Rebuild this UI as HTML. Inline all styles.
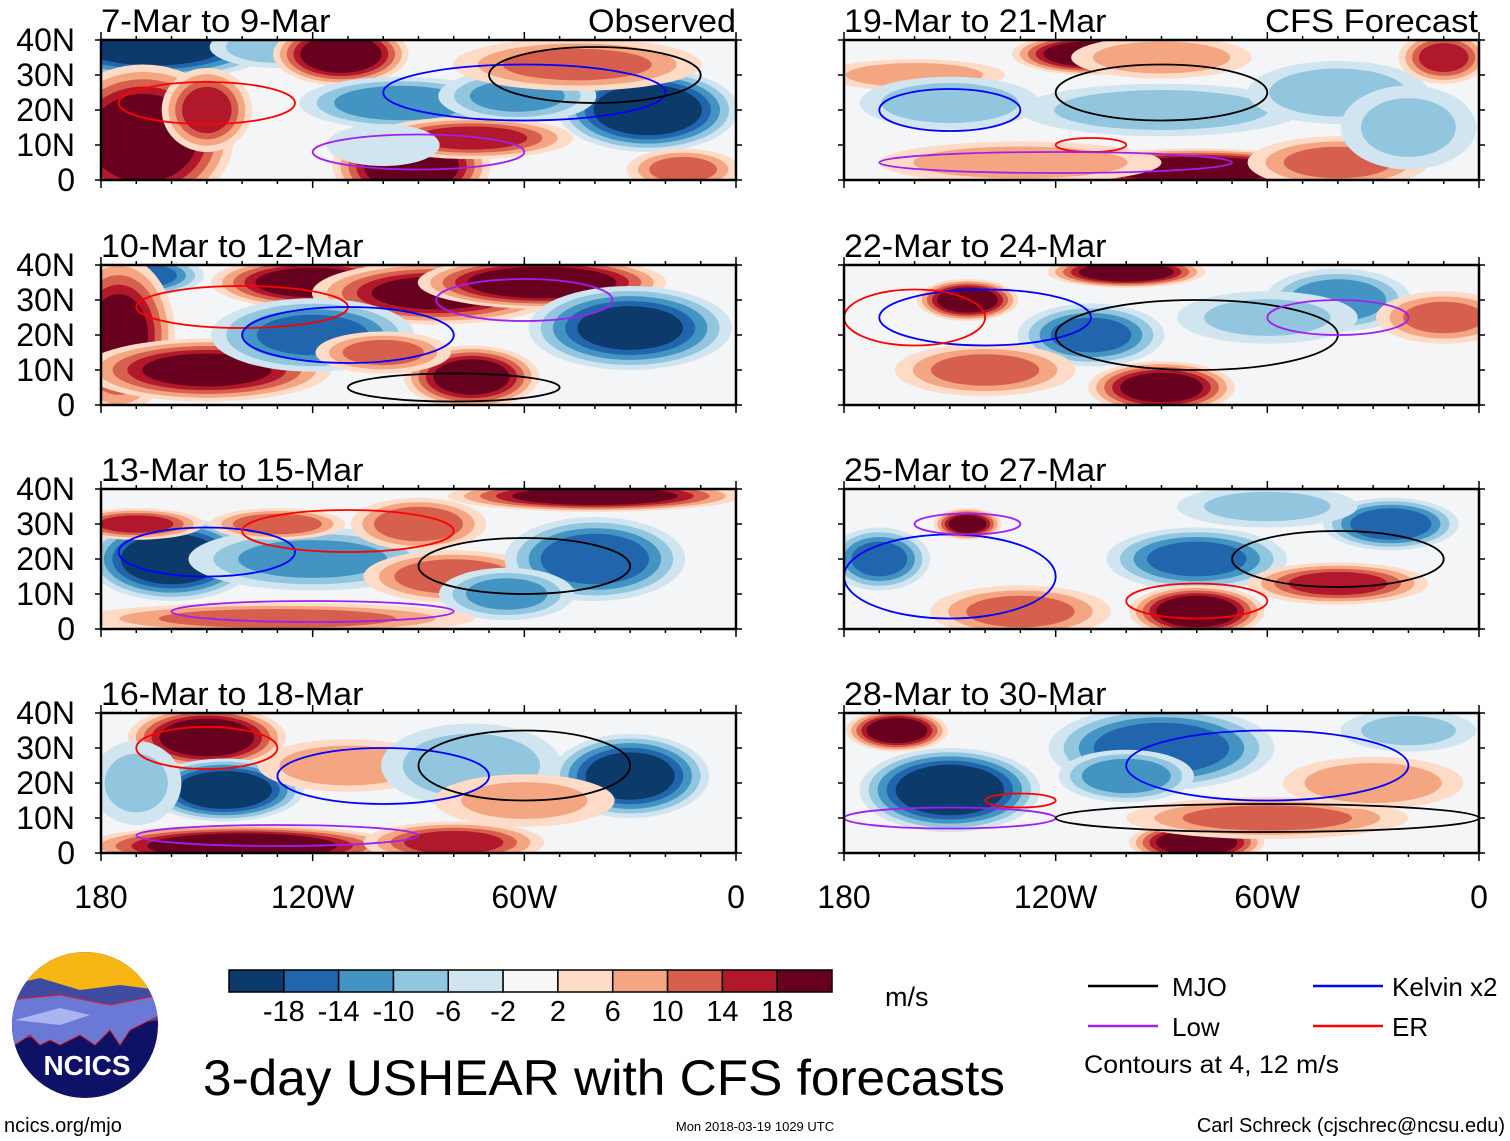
<!DOCTYPE html>
<html><head><meta charset="utf-8">
<style>
body{margin:0;background:#fff;width:1510px;height:1141px;overflow:hidden;font-family:"Liberation Sans",sans-serif}
svg{position:absolute;left:0;top:0}
</style></head>
<body>
<svg id="chart" width="1510" height="1141" viewBox="0 0 1510 1141"></svg>
<script>
// colour levels
const levelTicks = ["-18","-14","-10","-6","-2","2","6","10","14","18"];
const levelColors = ["#0b3a6b","#2166ac","#4393c3","#92c5de","#d1e5f0","#f7f7f7","#fddbc7","#f4a582","#d6604d","#b2182b","#67001f"];
const panelTitles = ["7-Mar to 9-Mar","10-Mar to 12-Mar","13-Mar to 15-Mar","16-Mar to 18-Mar","19-Mar to 21-Mar","22-Mar to 24-Mar","25-Mar to 27-Mar","28-Mar to 30-Mar"];
const latTicks = [40,30,20,10,0];
const latLabels = ["40N","30N","20N","10N","0"];
const lonTicks = [180,120,60,0];
const lonLabels = ["180","120W","60W","0"];
// blobs: [lonW, lat, rxDeg, ryDeg, value]
const blobs0 = [[165,39,22,7,-22],[130,38,12,4,-8],[112,36,12,6,22],[168,12,16,14,22],[150,20,8,8,14],[95,22,18,5,-12],[92,4,14,8,22],[75,12,18,4,14],[25,20,16,8,-22],[62,24,14,5,-10],[45,33,22,5,10],[15,3,10,4,10],[100,10,10,4,-3]];
const blobs1 = [[170,37,12,4,-16],[175,20,10,15,18],[120,35,18,5,20],[85,32,22,6,18],[55,35,22,5,22],[150,10,22,6,18],[120,20,18,7,-14],[75,8,12,6,20],[30,22,18,8,-18],[100,15,12,4,10]];
const blobs2 = [[160,20,15,8,-22],[120,20,22,6,-10],[170,30,12,3,14],[130,30,12,3,12],[90,30,12,5,12],[80,15,16,5,12],[40,20,16,8,-16],[65,10,12,5,-10],[40,38,26,3,20],[130,3,35,3,10]];
const blobs3 = [[150,33,14,6,22],[145,18,14,6,-22],[170,20,8,8,-6],[110,25,16,5,8],[75,25,16,8,-8],[30,22,14,8,-20],[140,2,28,4,22],[80,3,16,4,14],[60,15,16,5,6]];
const blobs4 = [[110,36,14,4,22],[160,30,16,3,8],[90,35,16,4,8],[150,22,16,5,-8],[90,20,25,5,-8],[40,25,16,6,-8],[80,3,25,4,22],[130,5,25,4,8],[10,35,8,5,14],[40,5,16,5,10],[20,15,12,8,-6]];
const blobs5 = [[145,30,9,4,22],[100,38,14,3,22],[110,20,13,6,-14],[40,30,13,6,-12],[90,5,13,5,20],[140,10,16,5,10],[10,25,12,5,10],[60,25,16,5,-6]];
const blobs6 = [[145,30,6,3,20],[170,20,9,6,-14],[80,20,16,6,-14],[25,30,12,5,-16],[80,5,12,5,22],[130,5,16,5,10],[40,13,16,4,14],[60,35,16,4,-6]];
const blobs7 = [[165,35,9,4,22],[150,18,16,8,-22],[90,30,20,8,-16],[100,22,12,5,-12],[80,3,12,4,22],[60,10,25,4,10],[30,20,16,5,8],[20,35,12,4,-6]];
const allBlobs = [blobs0,blobs1,blobs2,blobs3,blobs4,blobs5,blobs6,blobs7];
// contours: [lonW, lat, rxDeg, ryDeg, type] type 0 MJO,1 Kelvin,2 Low,3 ER
const contours0 = [[150,22,25,6,3],[60,25,40,8,1],[90,8,30,5,2],[40,30,30,8,0]];
const contours1 = [[140,28,30,6,3],[110,20,30,8,1],[80,5,30,4,0],[60,30,25,6,2]];
const contours2 = [[150,22,25,7,1],[110,28,30,6,3],[60,18,30,8,0],[120,5,40,3,2]];
const contours3 = [[150,30,20,6,3],[100,22,30,8,1],[60,25,30,10,0],[130,5,40,3,2]];
const contours4 = [[150,20,20,6,1],[90,25,30,8,0],[110,10,10,2,3],[120,5,50,3,2]];
const contours5 = [[140,25,30,8,1],[80,20,40,10,0],[160,25,20,8,3],[40,25,20,5,2]];
const contours6 = [[150,15,30,12,1],[80,8,20,5,3],[145,30,15,3,2],[40,20,30,8,0]];
const contours7 = [[150,10,30,3,2],[130,15,10,2,3],[60,25,40,10,1],[60,10,60,4,0]];
const allContours = [contours0,contours1,contours2,contours3,contours4,contours5,contours6,contours7];
const contourColors = ["#000","#0000ff","#a020f0","#ff0000"];

const NS="http://www.w3.org/2000/svg";
const svg=document.getElementById('chart');
function mk(t,a,p){const e=document.createElementNS(NS,t);for(const k in a)e.setAttribute(k,a[k]);(p||svg).appendChild(e);return e;}
const PW=635,PH=140;
const lefts=[101,844], tops=[40,265,489,713];
function colorOf(v){const b=[-18,-14,-10,-6,-2,2,6,10,14,18];let i=0;while(i<10&&v>=b[i])i++;return levelColors[i];}
function xScale(x0,lon){return x0+(180-lon)/180*PW;}
function yScale(y0,lat){return y0+(40-lat)/40*PH;}

for(let p=0;p<8;p++){
  const x0=lefts[p<4?0:1], y0=tops[p%4];
  const g=mk('g',{});
  
  
  const cp=mk('clipPath',{id:'cp'+p},g);mk('rect',{x:x0,y:y0,width:PW,height:PH},cp);
  const inner=mk('g',{'clip-path':'url(#cp'+p+')'},g);
  mk('rect',{x:x0,y:y0,width:PW,height:PH,fill:'#f3f5f7'},inner);
  allBlobs[p].forEach(b=>{
    const [lon,lat,rx,ry,v]=b;const s=Math.sign(v),m=Math.abs(v);
    for(let lv=2;lv<=m+0.1;lv+=4){
      const f=1-(lv-2)/(m+2)*0.6;
      const el=mk('ellipse',{cx:xScale(x0,lon),cy:yScale(y0,lat),rx:1.6*rx*f/180*PW,ry:1.5*ry*f/40*PH,fill:colorOf(s*(lv+1))},inner);
      
      
    }
  });
  allContours[p].forEach(c=>{
    const el=mk('ellipse',{cx:xScale(x0,c[0]),cy:yScale(y0,c[1]),rx:c[2]/180*PW,ry:c[3]/40*PH,fill:'none',stroke:contourColors[c[4]],'stroke-width':1.8},inner);
    
    
  });
  mk('rect',{x:x0,y:y0,width:PW,height:PH,fill:'none',stroke:'#000','stroke-width':2.5},g);
  for(let lon=180;lon>=0;lon-=10){const x=xScale(x0,lon);const L=lon%60==0?8:4;
    mk('line',{x1:x,x2:x,y1:y0+PH,y2:y0+PH+L,stroke:'#000','stroke-width':1.5},g);
    mk('line',{x1:x,x2:x,y1:y0,y2:y0-L,stroke:'#000','stroke-width':1.5},g);}
  latTicks.forEach(lat=>{const y=yScale(y0,lat);
    mk('line',{x1:x0-6,x2:x0,y1:y,y2:y,stroke:'#000','stroke-width':1.5},g);
    mk('line',{x1:x0+PW,x2:x0+PW+6,y1:y,y2:y,stroke:'#000','stroke-width':1.5},g);});
  const t=mk('text',{x:x0,y:y0-8,'font-size':32,fill:'#000',textLength:panelTitles[p].length*16.4,lengthAdjust:'spacingAndGlyphs'},g);t.textContent=panelTitles[p];
  
  
  if(p<4){latTicks.forEach((lat,i)=>{const tt=mk('text',{x:75,y:yScale(y0,lat)+11,'font-size':32,'text-anchor':'end'},g);tt.textContent=latLabels[i];
    
    });}
}
[["Observed",736,148],["CFS Forecast",1478,213]].forEach(h=>{const t=mk('text',{x:h[1]-h[2],y:32,'font-size':32,textLength:h[2],lengthAdjust:'spacingAndGlyphs'});t.textContent=h[0];
  
  });
lefts.forEach(x0=>{lonTicks.forEach((lon,i)=>{const t=mk('text',{x:xScale(x0,lon),y:908,'font-size':32,'text-anchor':'middle'});t.textContent=lonLabels[i];
  
  });});
const cbx=229,cbw=603/11;
levelColors.forEach((c,i)=>{const r=mk('rect',{x:cbx+i*cbw,y:970,width:cbw,height:22,fill:c,stroke:'#000','stroke-width':1.5});
  
  });
levelTicks.forEach((l,i)=>{const t=mk('text',{x:cbx+(i+1)*cbw,y:1021,'font-size':29,'text-anchor':'middle'});t.textContent=l;
  
  });
function txt(s,x,y,fs,anchor,name,extra){const t=mk('text',Object.assign({x:x,y:y,'font-size':fs,'text-anchor':anchor||'start'},extra||{}));t.textContent=s;
  
  return t;}
txt("m/s",885,1006,27,'start','units-label');
txt("3-day USHEAR with CFS forecasts",203,1095,50,'start','chart-title',{textLength:802,lengthAdjust:'spacingAndGlyphs'});
txt("ncics.org/mjo",4,1132,20,'start','site-url');
txt("Mon 2018-03-19 1029 UTC",755,1131,13,'middle','timestamp');
txt("Carl Schreck (cjschrec@ncsu.edu)",1505,1132,20,'end','author-credit');
txt("Contours at 4, 12 m/s",1084,1073,25,'start','contour-note',{textLength:255,lengthAdjust:'spacingAndGlyphs'});
[["MJO","#000",1088,986,1172],["Low","#a020f0",1088,1026,1172],["Kelvin x2","#0000ff",1313,986,1392],["ER","#ff0000",1313,1026,1392]].forEach(l=>{
  const g=mk('g',{});
  
  mk('line',{x1:l[2],x2:l[2]+70,y1:l[3],y2:l[3],stroke:l[1],'stroke-width':2.5},g);
  const t=mk('text',{x:l[4],y:l[3]+10,'font-size':26},g);t.textContent=l[0];});
const lg=mk('g',{});
const lc=mk('clipPath',{id:'lc'},lg);mk('circle',{cx:85,cy:1025,r:73},lc);
const li=mk('g',{'clip-path':'url(#lc)'},lg);
mk('rect',{x:10,y:950,width:150,height:150,fill:'#0d1266'},li);
mk('rect',{x:10,y:950,width:150,height:45,fill:'#f7b614'},li);
mk('path',{d:'M10 985 L40 978 L80 990 L120 985 L160 990 L160 1020 L10 1040Z',fill:'#3f4ba0'},li);
mk('path',{d:'M10 1000 L60 995 L110 1005 L160 995 L160 1015 L130 1030 L120 1045 L110 1030 L95 1045 L80 1035 L60 1045 L50 1040 L40 1045 L30 1035 L10 1048Z',fill:'#6a78d6',stroke:'#e02020','stroke-width':1},li);
mk('path',{d:'M15 1020 L60 1008 L90 1015 L60 1025Z',fill:'#aab4ee'},li);
const lt=mk('text',{x:87,y:1075,'font-size':28,'font-weight':'bold',fill:'#fff','text-anchor':'middle'},lg);lt.textContent="NCICS";
</script>
</body></html>
